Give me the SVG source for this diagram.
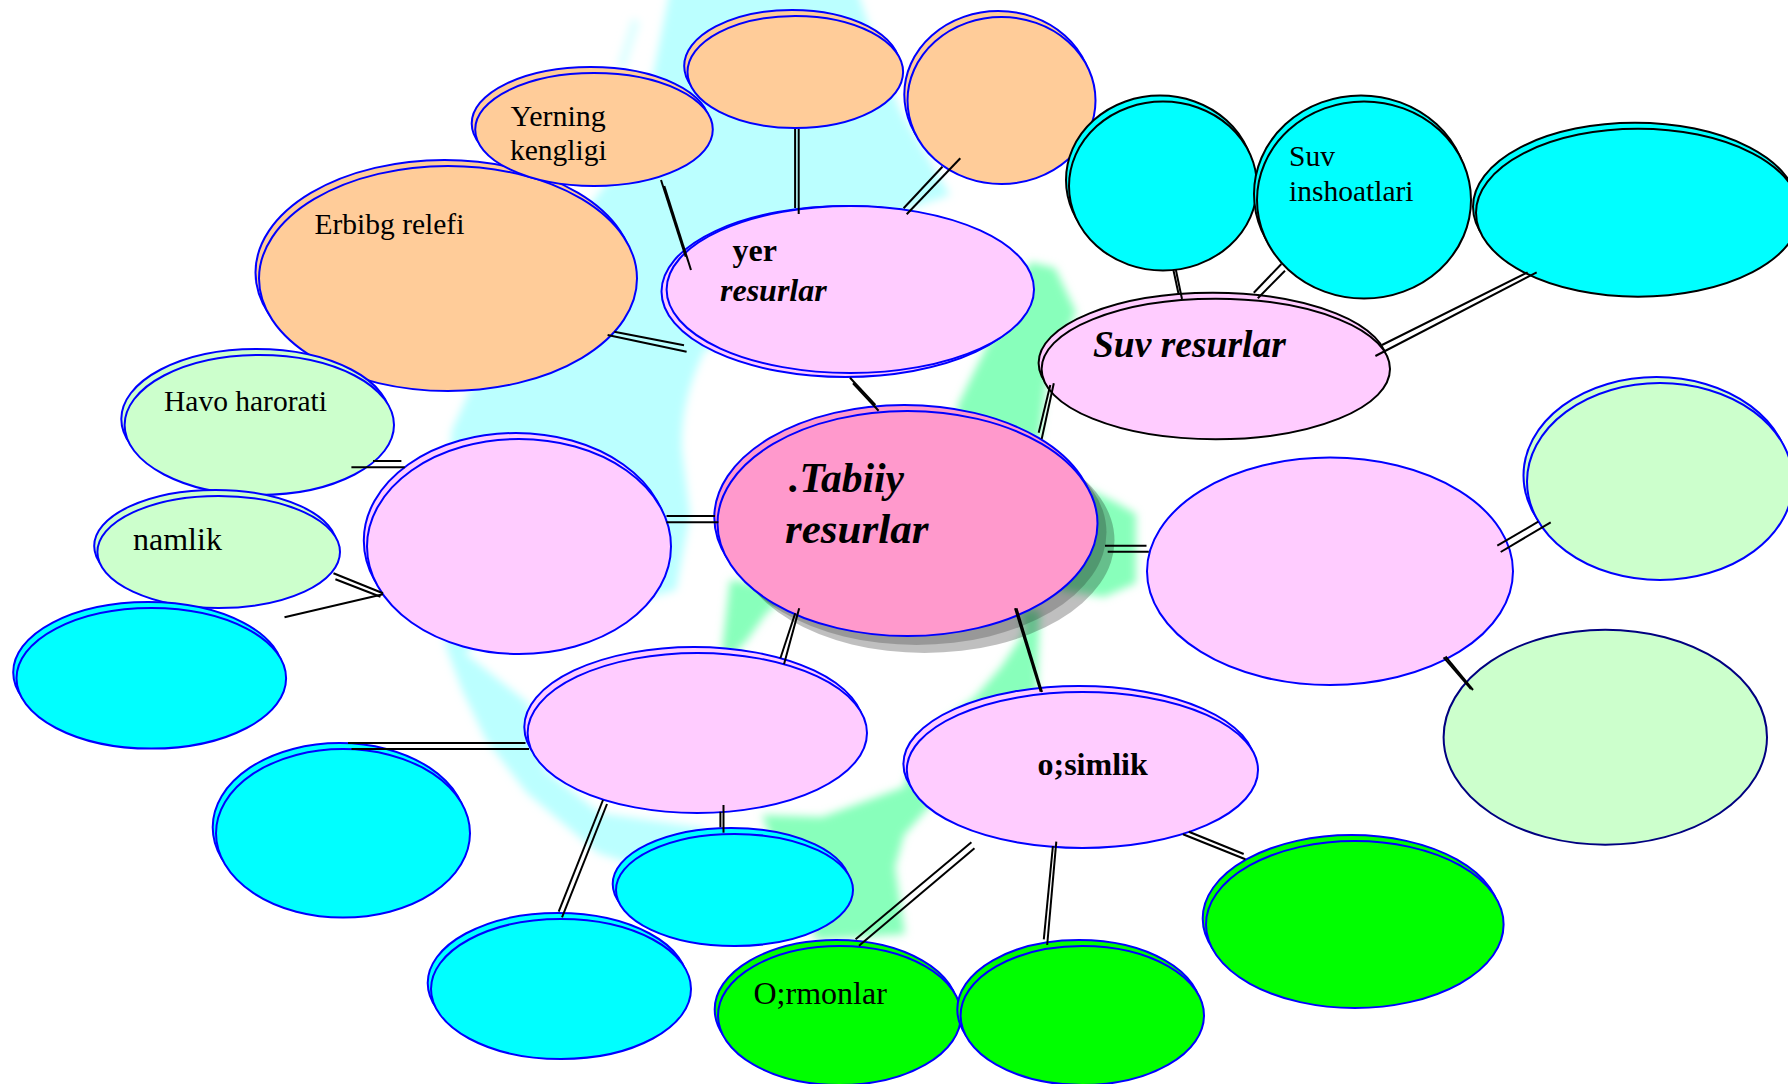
<svg xmlns="http://www.w3.org/2000/svg" width="1788" height="1084" viewBox="0 0 1788 1084">
<style>
.b{stroke:#0000ff;stroke-width:2}
.k{stroke:#000;stroke-width:2}
.n{stroke:#000080;stroke-width:2}
.pk{fill:#ffccff}.or{fill:#ffcc99}.cy{fill:#00ffff}.lg{fill:#ccffcc}.gr{fill:#00ff00}.ce{fill:#ff99cc}
#connectors line{stroke:#000;stroke-width:2}
text{font-family:"Liberation Serif","Times New Roman",serif;fill:#000;font-size:29.5px}
.bd{font-weight:bold;font-size:32px}
.bi{font-weight:bold;font-style:italic;font-size:32px}
.big{font-weight:bold;font-style:italic;font-size:43px}
</style>
<defs>
<filter id="soft" x="-10%" y="-10%" width="120%" height="120%"><feGaussianBlur stdDeviation="4"/></filter>
</defs>
<rect width="1788" height="1084" fill="#fff"/>
<g id="watermark" filter="url(#soft)">
<path fill="#bbffff" d="M670 -10L857 -10Q880 60 900 110L950 195L905 210L860 300L760 330L705 350Q680 400 682 450L690 515L676 590L640 600L480 640L465 653L528 703L545 770L600 813L705 828L700 870L644 868L598 853L527 793L486 740L462 690L446 647L440 560L452 430L470 390L530 300Q590 200 610 180L650 90Z"/>
<path fill="#ddffff" d="M632 18L640 22L625 70L617 66Z"/>
<path fill="#88ffbb" d="M1030 262L1055 268L1076 312L1060 350L1046 385L1040 440L960 440L957 407L970 380L1000 320Z"/>
<path fill="#88ffbb" d="M1050 470L1117 503L1136 514L1136 583L1104 597L1060 590L1040 530Z"/>
<path fill="#88ffbb" d="M730 580L790 590L765 615L747 640L728 660L722 650Z"/>
<path fill="#88ffbb" d="M1020 610L1040 610L1037 690L935 800L904 835L895 867L905 934L817 940L780 860L762 815L822 817L904 787L920 740L975 697L1001 667L1024 633Z"/>
</g>
<g id="node-shadow">
<ellipse cx="924.5" cy="540.5" rx="190" ry="112.5" fill="#000" fill-opacity=".25"/>
<ellipse cx="916.5" cy="532.5" rx="190" ry="112.5" fill="#000" fill-opacity=".2"/>
</g>
<g id="node-erbibg">
<ellipse class="or b" cx="444.5" cy="272.5" rx="189" ry="112.5"/><ellipse class="or b" cx="448" cy="278.5" rx="189" ry="112.5"/>
<text x="314.5" y="234">Erbibg relefi</text></g>
<g id="node-yerning">
<ellipse class="or b" cx="590.5" cy="123.5" rx="118.8" ry="56.5"/><ellipse class="or b" cx="594" cy="129.5" rx="118.8" ry="56.5"/>
<text style="font-size:30px" x="510.5" y="126">Yerning</text><text x="510" y="160">kengligi</text></g>
<g id="node-top1">
<ellipse class="or b" cx="792" cy="66" rx="107.8" ry="56"/><ellipse class="or b" cx="795.3" cy="72" rx="107.8" ry="56"/></g>
<g id="node-top2">
<ellipse class="or b" cx="998.3" cy="94.5" rx="94" ry="83.5"/><ellipse class="or b" cx="1001.5" cy="100.5" rx="94" ry="83.5"/></g>
<g id="node-yer">
<ellipse class="pk b" cx="845.5" cy="291.5" rx="184" ry="85.5"/><ellipse class="pk b" cx="850.3" cy="289.5" rx="183.7" ry="83.5"/>
<text class="bd" x="732.5" y="261">yer</text><text class="bi" x="720" y="300.5">resurlar</text></g>
<g id="node-cyan1">
<ellipse class="cy k" cx="1160" cy="180" rx="94" ry="84.5"/><ellipse class="cy k" cx="1163" cy="186" rx="94" ry="84.5"/></g>
<g id="node-cyan2">
<ellipse class="cy k" cx="1361" cy="194" rx="107" ry="98.5"/><ellipse class="cy k" cx="1364" cy="200" rx="107" ry="98.5"/>
<text x="1289" y="166">Suv</text><text x="1289" y="200.5">inshoatlari</text></g>
<g id="node-cyan3">
<ellipse class="cy k" cx="1635" cy="206.7" rx="162" ry="84"/><ellipse class="cy k" cx="1638" cy="212.7" rx="162" ry="84"/></g>
<g id="node-suv">
<ellipse class="pk k" cx="1212.8" cy="363" rx="174.2" ry="70.2"/><ellipse class="pk k" cx="1215.8" cy="369" rx="174.2" ry="70.2"/>
<text class="big" style="font-size:37.5px" x="1093" y="356.5">Suv resurlar</text></g>
<g id="node-havo">
<ellipse class="lg b" cx="256" cy="419" rx="134.7" ry="70"/><ellipse class="lg b" cx="259.3" cy="425" rx="134.7" ry="70"/>
<text x="164" y="411">Havo harorati</text></g>
<g id="node-namlik">
<ellipse class="lg b" cx="215.5" cy="546" rx="121.3" ry="56"/><ellipse class="lg b" cx="218.7" cy="552" rx="121.3" ry="56"/>
<text style="font-size:32px" x="133" y="550">namlik</text></g>
<g id="node-cyanleft">
<ellipse class="cy b" cx="148" cy="672.3" rx="134.8" ry="70.3"/><ellipse class="cy b" cx="151.3" cy="678.3" rx="134.8" ry="70.3"/></g>
<g id="node-pinkleft">
<ellipse class="pk b" cx="515.8" cy="540.5" rx="152" ry="107.5"/><ellipse class="pk b" cx="519" cy="546.5" rx="152" ry="107.5"/></g>
<g id="node-central">
<ellipse class="ce b" cx="904.3" cy="517.5" rx="190" ry="112.5"/><ellipse class="ce b" cx="907.5" cy="523.5" rx="190" ry="112.5"/>
<text class="big" x="789" y="492" textLength="115" lengthAdjust="spacingAndGlyphs">.Tabiiy</text><text class="big" x="785" y="543">resurlar</text></g>
<g id="node-pinkright">
<ellipse class="pk b" cx="1330" cy="571.3" rx="183" ry="113.7"/></g>
<g id="node-lgtop">
<ellipse class="lg b" cx="1656.5" cy="475.5" rx="133" ry="98.5"/><ellipse class="lg b" cx="1660" cy="481.5" rx="133" ry="98.5"/></g>
<g id="node-lgbottom">
<ellipse class="lg n" cx="1605.3" cy="737.2" rx="161.7" ry="107.5"/></g>
<g id="node-pinklower">
<ellipse class="pk b" cx="694" cy="727" rx="169.7" ry="80"/><ellipse class="pk b" cx="697.3" cy="733" rx="169.7" ry="80"/></g>
<g id="node-osimlik">
<ellipse class="pk b" cx="1079" cy="764" rx="175.6" ry="78"/><ellipse class="pk b" cx="1082.4" cy="770" rx="175.6" ry="78"/>
<text class="bd" x="1037.5" y="775">o;simlik</text></g>
<g id="node-cyan-a">
<ellipse class="cy b" cx="339.7" cy="827.3" rx="127" ry="84.3"/><ellipse class="cy b" cx="343" cy="833.3" rx="127" ry="84.3"/></g>
<g id="node-cyan-b">
<ellipse class="cy b" cx="557.7" cy="983" rx="130" ry="70"/><ellipse class="cy b" cx="561" cy="989" rx="130" ry="70"/></g>
<g id="node-cyan-c">
<ellipse class="cy b" cx="731.2" cy="884" rx="118.5" ry="56"/><ellipse class="cy b" cx="734.5" cy="890" rx="118.5" ry="56"/></g>
<g id="node-ormon">
<ellipse class="gr b" cx="836.2" cy="1009.5" rx="121.5" ry="69.5"/><ellipse class="gr b" cx="839.5" cy="1015.5" rx="121.5" ry="69.5"/>
<text style="font-size:32px" x="753.5" y="1004">O;rmonlar</text></g>
<g id="node-green2">
<ellipse class="gr b" cx="1079" cy="1009.5" rx="121.7" ry="69.5"/><ellipse class="gr b" cx="1082.3" cy="1015.5" rx="121.7" ry="69.5"/></g>
<g id="node-green3">
<ellipse class="gr b" cx="1351.5" cy="918.5" rx="148.8" ry="83.5"/><ellipse class="gr b" cx="1354.8" cy="924.5" rx="148.8" ry="83.5"/></g>
<g id="connectors">
<line x1="795.1" y1="129" x2="795.1" y2="208"/><line x1="798.7" y1="129" x2="798.7" y2="214"/>
<line x1="942.4" y1="166.7" x2="903.6" y2="208.3"/><line x1="960.3" y1="158.3" x2="906.7" y2="214.3"/>
<line x1="661" y1="180" x2="685.7" y2="256.7"/><line x1="664.3" y1="186" x2="691" y2="270"/>
<line x1="614.3" y1="331.7" x2="684" y2="345.3"/><line x1="607.6" y1="335" x2="686.6" y2="351.7"/>
<line x1="850" y1="377.7" x2="875.4" y2="405"/><line x1="853" y1="383.3" x2="878.6" y2="410.7"/>
<line x1="1173.4" y1="270" x2="1178.4" y2="293.3"/><line x1="1175.9" y1="270" x2="1182" y2="299"/>
<line x1="1281.4" y1="264" x2="1253.8" y2="292.7"/><line x1="1285" y1="270.7" x2="1257.8" y2="298.3"/>
<line x1="1527.6" y1="272.3" x2="1382" y2="345"/><line x1="1536.7" y1="272.3" x2="1375.4" y2="356"/>
<line x1="1050.3" y1="385" x2="1038.7" y2="432.7"/><line x1="1053.8" y1="383.3" x2="1041.7" y2="439"/>
<line x1="1105" y1="545.7" x2="1146.5" y2="545.7"/><line x1="1107.7" y1="551.7" x2="1148.8" y2="551.7"/>
<line x1="795.2" y1="613.3" x2="780.4" y2="658.3"/><line x1="799.2" y1="608.3" x2="784" y2="664.3"/>
<line x1="1015" y1="608.3" x2="1040.7" y2="691.7"/><line x1="1016.5" y1="608.3" x2="1042" y2="692"/>
<line x1="666.5" y1="516" x2="715" y2="516"/><line x1="666.5" y1="522.3" x2="718.4" y2="522.3"/>
<line x1="373" y1="461" x2="401.4" y2="461"/><line x1="351.4" y1="467.3" x2="404.7" y2="467.3"/>
<line x1="333.5" y1="573.3" x2="383" y2="593.3"/><line x1="335.4" y1="579.3" x2="380.5" y2="596.7"/>
<line x1="284.5" y1="617.3" x2="383" y2="594.3"/>
<line x1="348" y1="743" x2="525.5" y2="743"/><line x1="351.5" y1="749" x2="529" y2="749"/>
<line x1="603" y1="800" x2="558.7" y2="911.7"/><line x1="607" y1="804" x2="562" y2="917.3"/>
<line x1="720.4" y1="811.7" x2="720.4" y2="827.3"/><line x1="723.5" y1="805" x2="723.5" y2="832.7"/>
<line x1="971.4" y1="842.3" x2="855.6" y2="939.3"/><line x1="974.5" y1="848.3" x2="859" y2="945.7"/>
<line x1="1052.9" y1="846" x2="1043.8" y2="939.3"/><line x1="1056.3" y1="841.7" x2="1047.2" y2="945"/>
<line x1="1188.8" y1="831.7" x2="1243.7" y2="854"/><line x1="1183" y1="834.3" x2="1245.4" y2="859.3"/>
<line x1="1443.6" y1="657.3" x2="1471" y2="689"/><line x1="1445.5" y1="656.5" x2="1473" y2="690"/>
<line x1="1538.3" y1="521.7" x2="1497.3" y2="545.7"/><line x1="1550.7" y1="522.3" x2="1500.7" y2="552"/>
</g>
</svg>
